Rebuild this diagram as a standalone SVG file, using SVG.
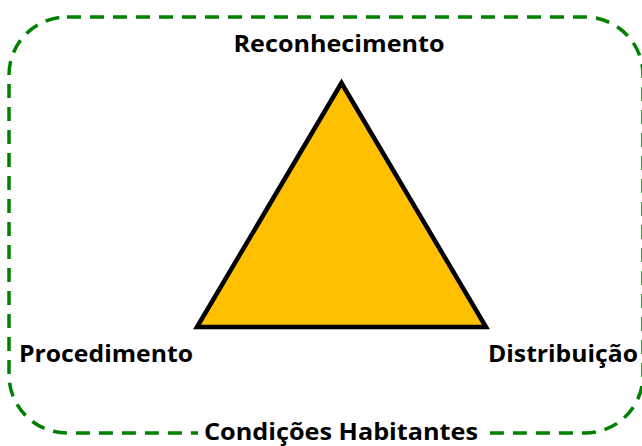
<svg xmlns="http://www.w3.org/2000/svg" width="642" height="446" viewBox="0 0 642 446">
<style>
.lbl{font-family:"Open Sans","Liberation Sans",sans-serif;font-weight:bold;font-size:23px;fill:#000}
.border{fill:none;stroke:#008000;stroke-width:3.5;stroke-dasharray:14 9}
</style>
<rect width="642" height="446" fill="#fff"/>
<g id="boundary">
<rect class="border" x="9" y="17" width="634" height="416" rx="58" ry="58"/>
<rect x="198" y="420" width="286" height="26" fill="#fff"/>
<text class="lbl" x="341" y="440" text-anchor="middle" textLength="274" lengthAdjust="spacingAndGlyphs">Condições Habitantes</text>
</g>
<g id="triangle">
<polygon points="341.5,83 197,327 486,327" fill="#FFC000" stroke="#000" stroke-width="4.5" stroke-linejoin="miter"/>
</g>
<g id="reconhecimento">
<text class="lbl" x="339" y="52" text-anchor="middle" textLength="211" lengthAdjust="spacingAndGlyphs">Reconhecimento</text>
</g>
<g id="procedimento">
<text class="lbl" x="19" y="362" textLength="174" lengthAdjust="spacingAndGlyphs">Procedimento</text>
</g>
<g id="distribuicao">
<text class="lbl" x="488" y="362" textLength="150" lengthAdjust="spacingAndGlyphs">Distribuição</text>
</g>
<g id="connectors"/>
</svg>
